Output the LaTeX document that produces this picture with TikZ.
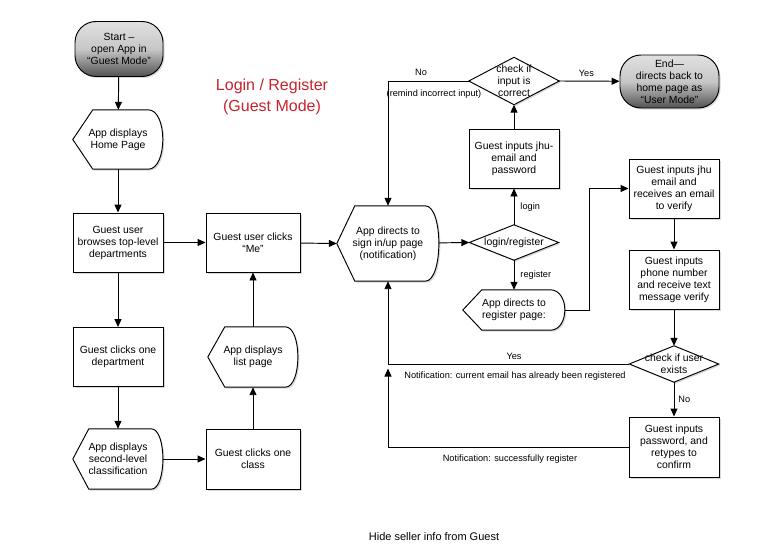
\documentclass[tikz,border=0pt]{standalone}
\usepackage{fontspec}
\setmainfont{Liberation Sans}
\usetikzlibrary{arrows.meta,shadows,backgrounds}
\definecolor{titlered}{RGB}{200,35,45}
\tikzset{
  every node/.style={font=\fontsize{10.4}{12}\selectfont},
  ln/.style={line width=0.95pt},
  arr/.style={ln,-{Triangle[length=8pt,width=7pt]}},
  shad/.style={drop shadow={shadow xshift=1.5pt,shadow yshift=-1.5pt,opacity=0.3}},
  box/.style={draw,ln,fill=white,shad,minimum width=90pt,minimum height=59pt,align=center,inner sep=2pt},
  disp/.style={minimum width=90pt,minimum height=59pt,align=center,inner sep=0pt},
  term/.style={draw,ln,rounded corners=21pt,top color=black!12,bottom color=black!68,middle color=black!22,shad,minimum width=88pt,minimum height=55pt,align=center,inner sep=0pt},
  dia/.style={minimum width=90pt,minimum height=46pt,align=center,inner sep=0pt},
  lbl/.style={font=\fontsize{9.2}{11}\selectfont,inner sep=1pt},
}
\newcommand\dispout[3]{%
 \draw[ln,fill=white,shad] (#1.west) -- ([xshift=#2pt]#1.north west) -- ([xshift=-#3pt]#1.north east) .. controls ([xshift=#3*0.3pt]#1.north east) and ([xshift=#3*0.3pt]#1.south east) .. ([xshift=-#3pt]#1.south east) -- ([xshift=#2pt]#1.south west) -- cycle;}
\newcommand\diaout[1]{%
 \draw[ln,fill=white,shad] (#1.west) -- (#1.north) -- (#1.east) -- (#1.south) -- cycle;}
\begin{document}
\begin{tikzpicture}[x=1pt,y=-1pt]
\useasboundingbox (0,0) rectangle (783,559);
% terminals
\node[term] (start) at (119,49) {Start --\\open App in\\``Guest Mode''};
\node[term,minimum width=99pt,minimum height=53pt] (end) at (669.5,81.5) {End---\\directs back to\\home page as\\``User Mode''};
% title
\node[text=titlered,font=\fontsize{16}{21}\selectfont,align=center] (title) at (272,97) {Login / Register\\(Guest Mode)};
% left column
\node[disp] (hp) at (118,139.5) {App displays\\Home Page};
\node[box] (browse) at (118,242.5) {Guest user\\browses top-level\\departments};
\node[box] (dept) at (118,357) {Guest clicks one\\department};
\node[disp,minimum height=60pt] (sec) at (118,459) {App displays\\second-level\\classification};
% second column
\node[box,minimum width=94pt] (me) at (253,242.5) {Guest user clicks\\``Me''};
\node[disp,minimum height=60pt] (list) at (253,357) {App displays\\list page};
\node[box,minimum width=94pt,minimum height=60pt] (class) at (253,459) {Guest clicks one\\class};
% middle
\node[disp,minimum width=102pt,minimum height=75pt] (signin) at (388,243.5) {App directs to\\sign in/up page\\(notification)};
\node[dia,minimum width=89pt,minimum height=35pt] (lr) at (514,242.5) {login/register};
\node[box] (email) at (514,158.5) {Guest inputs jhu-\\email and\\password};
\node[dia,minimum height=47pt] (chk) at (514,81) {check if\\input is\\correct};
\node[disp,minimum width=102pt,minimum height=40pt] (reg) at (514,310) {App directs to\\register page:};
% right column
\node[box] (verify) at (674,188.5) {Guest inputs jhu\\email and\\receives an email\\to verify};
\node[box] (phone) at (674,279.5) {Guest inputs\\phone number\\and receive text\\message verify};
\node[dia,minimum width=89pt,minimum height=36pt] (exists) at (674,364) {check if user\\exists};
\node[box,minimum height=60pt] (pwd) at (674,447) {Guest inputs\\password, and\\retypes to\\confirm};
% outlines
\begin{scope}[on background layer]
\dispout{hp}{20}{15}
\dispout{sec}{16}{12}
\dispout{list}{17}{13}
\dispout{signin}{18}{14}
\dispout{reg}{19}{15}
\diaout{lr}
\diaout{chk}
\diaout{exists}
\end{scope}
% coordinates
\coordinate (rj) at (589,310);
\coordinate (yj) at (388,368.5);
% connectors
\draw[arr] (start) -- (hp);
\draw[arr] (hp) -- (browse);
\draw[arr] (browse) -- (me);
\draw[arr] (browse) -- (dept);
\draw[arr] (dept) -- (sec);
\draw[arr] (sec) -- (class);
\draw[arr] (class) -- (list);
\draw[arr] (list) -- (me);
\draw[arr] (me) -- (signin.west);
\draw[arr] (signin) -- (lr.west);
\draw[arr] (lr.north) -- node[lbl,right=5pt] (llogin) {login} (email);
\draw[arr] (lr.south) -- node[lbl,right=5pt] (lreg) {register} (reg);
\draw[arr] (email) -- (chk.south);
\draw[arr] (chk.east) -- node[lbl,above=3pt,pos=0.45] (lyes1) {Yes} (end);
\draw[arr] (chk.west) -| (signin.north);
\draw[arr] (reg.east) -- (rj) |- (verify.west);
\draw[arr] (verify) -- (phone);
\draw[arr] (phone) -- (exists.north);
\draw[arr] (exists.south) -- node[lbl,right=3pt] (lno2) {No} (pwd);
\draw[arr] (exists.west) -| (signin.south);
\draw[arr] (pwd.west) -| (yj);
% labels
\node[lbl] (lno1) at (421,72) {No};
\node[lbl] (lremind) at (434,94) {(remind incorrect input)};
\node[lbl] (lyes2) at (514,356) {Yes};
\node[lbl] (lnot1) at (515,376) {Notification: current email has already been registered};
\node[lbl] (lnot2) at (510,459) {Notification: successfully register};
\node[font=\fontsize{11}{13}\selectfont] (hide) at (434,537) {Hide seller info from Guest};
\end{tikzpicture}
\end{document}
